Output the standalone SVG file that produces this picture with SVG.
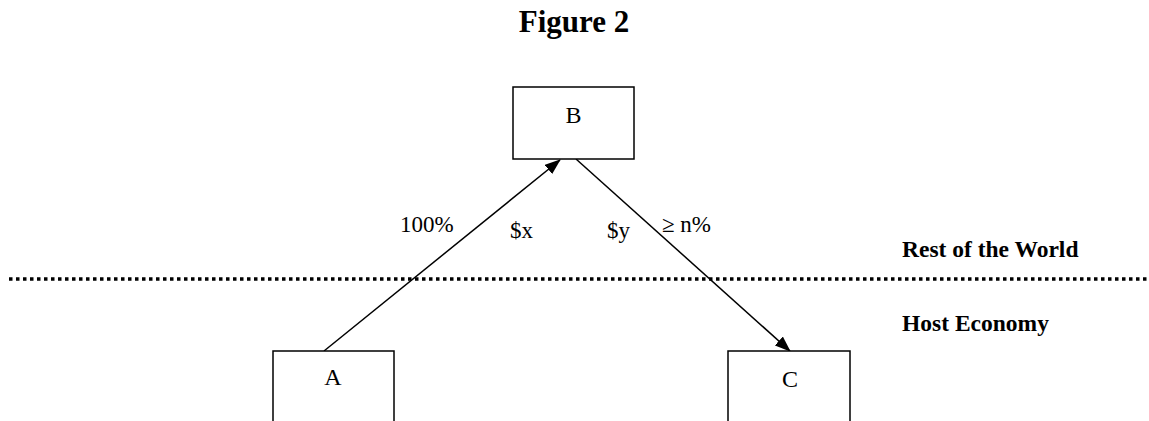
<svg xmlns="http://www.w3.org/2000/svg" width="1149" height="421" viewBox="0 0 1149 421">
<style>
text{font-family:"Liberation Serif","Times New Roman",serif;fill:#000}
.b{font-weight:bold}
.box{fill:#fff;stroke:#000;stroke-width:1.5}
.ln{stroke:#000;stroke-width:1.5;fill:none}
</style>
<defs>
<marker id="ah" markerWidth="16" markerHeight="12" refX="15" refY="6" orient="auto" markerUnits="userSpaceOnUse">
<path d="M0,0 L16,6 L0,12 Z" fill="#000"/>
</marker>
</defs>
<rect width="1149" height="421" fill="#fff"/>
<text class="b" x="574" y="32" font-size="31" text-anchor="middle">Figure 2</text>
<line x1="9" y1="279" x2="1149" y2="279" stroke="#000" stroke-width="3.5" stroke-dasharray="3.5 3.5"/>
<g id="connectors">
<line class="ln" x1="324" y1="351" x2="560" y2="160" marker-end="url(#ah)"/>
<line class="ln" x1="576" y1="159" x2="790" y2="351" marker-end="url(#ah)"/>
</g>
<g id="B"><rect class="box" x="513" y="87" width="121" height="72"/><text x="573.5" y="123" font-size="24" text-anchor="middle">B</text></g>
<g id="A"><rect class="box" x="273" y="351" width="121" height="80"/><text x="333" y="385" font-size="24" text-anchor="middle">A</text></g>
<g id="C"><rect class="box" x="728" y="351" width="122" height="80"/><text x="790" y="387" font-size="24" text-anchor="middle">C</text></g>
<g id="labels">
<text x="400" y="232" font-size="23">100%</text>
<text x="510" y="238" font-size="23">$x</text>
<text x="607" y="238" font-size="23">$y</text>
<text x="662" y="232" font-size="23">≥ n%</text>
<text class="b" x="902" y="257" font-size="23.5">Rest of the World</text>
<text class="b" x="902" y="331" font-size="23.5">Host Economy</text>
</g>
</svg>
